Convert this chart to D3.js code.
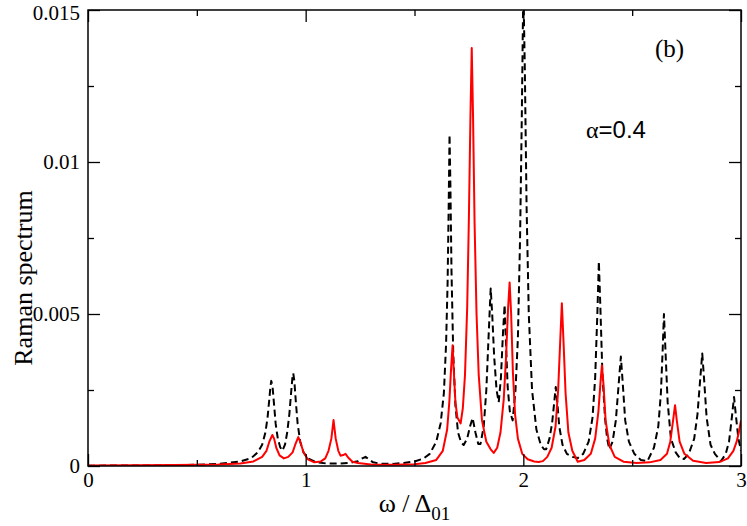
<!DOCTYPE html>
<html>
<head>
<meta charset="utf-8">
<script src="https://cdn.jsdelivr.net/npm/d3@7/dist/d3.min.js"></script>
<style>
  html, body { margin: 0; padding: 0; background: #fff; }
  svg { display: block; }
  .serif { font-family: "Liberation Serif", "Times New Roman", "DejaVu Serif", serif; }
  .sans { font-family: "Liberation Sans", Arial, sans-serif; }
</style>
</head>
<body>
<svg id="chart" width="747" height="526"></svg>
<script>
// ---- data ----
const xTicks = [0, 1, 2, 3];
const xTickLabels = ["0", "1", "2", "3"];
const xMinorTicks = [0.5, 1.5, 2.5];
const yTicks = [0, 0.005, 0.01, 0.015];
const yTickLabels = ["0", "0.005", "0.01", "0.015"];
const yMinorTicks = [0.0025, 0.0075, 0.0125];

// black dashed series: omega values and spectrum values
const blackOmega = [0, 0.3, 0.5, 0.6, 0.7, 0.75, 0.78, 0.8, 0.815, 0.825, 0.833, 0.838, 0.842, 0.848, 0.855, 0.862, 0.872, 0.883, 0.893, 0.905, 0.915, 0.925, 0.933, 0.939, 0.943, 0.948, 0.955, 0.963, 0.975, 0.99, 1.01, 1.05, 1.1, 1.15, 1.2, 1.24, 1.26, 1.275, 1.29, 1.31, 1.35, 1.4, 1.45, 1.5, 1.54, 1.57, 1.6, 1.62, 1.635, 1.645, 1.652, 1.657, 1.661, 1.665, 1.67, 1.678, 1.688, 1.7, 1.714, 1.726, 1.742, 1.755, 1.767, 1.78, 1.793, 1.803, 1.818, 1.83, 1.84, 1.85, 1.857, 1.866, 1.877, 1.887, 1.897, 1.906, 1.914, 1.92, 1.928, 1.938, 1.951, 1.964, 1.975, 1.985, 1.993, 2.0, 2.007, 2.015, 2.025, 2.04, 2.06, 2.08, 2.095, 2.105, 2.12, 2.132, 2.142, 2.149, 2.156, 2.165, 2.18, 2.2, 2.225, 2.25, 2.275, 2.3, 2.318, 2.33, 2.34, 2.347, 2.354, 2.363, 2.375, 2.385, 2.395, 2.41, 2.425, 2.437, 2.448, 2.456, 2.468, 2.485, 2.51, 2.54, 2.57, 2.6, 2.62, 2.632, 2.64, 2.646, 2.653, 2.663, 2.678, 2.7, 2.72, 2.738, 2.76, 2.785, 2.8, 2.812, 2.822, 2.83, 2.842, 2.86, 2.88, 2.908, 2.93, 2.945, 2.958, 2.968, 2.976, 2.988, 3.0];
const blackValue = [0.00001, 0.00002, 0.00004, 0.00007, 0.00015, 0.00026, 0.00045, 0.0007, 0.0011, 0.0016, 0.0022, 0.0026, 0.0028, 0.0026, 0.002, 0.0014, 0.0009, 0.00062, 0.0005, 0.0007, 0.0011, 0.0017, 0.0024, 0.0029, 0.00305, 0.0028, 0.0021, 0.0014, 0.0008, 0.00045, 0.00025, 0.00012, 0.00008, 0.00008, 0.0001, 0.00016, 0.00025, 0.0003, 0.00022, 0.00012, 0.00007, 0.00007, 0.0001, 0.00015, 0.00024, 0.0004, 0.0008, 0.0014, 0.0024, 0.004, 0.006, 0.0085, 0.0109, 0.0092, 0.0064, 0.0037, 0.002, 0.0011, 0.00078, 0.00069, 0.0009, 0.0013, 0.00158, 0.0011, 0.00072, 0.00072, 0.0013, 0.0025, 0.0042, 0.00584, 0.005, 0.0036, 0.0025, 0.0021, 0.0029, 0.0043, 0.0053, 0.0041, 0.0026, 0.0018, 0.0015, 0.0025, 0.0042, 0.0075, 0.0115, 0.0158, 0.013, 0.0085, 0.005, 0.0025, 0.0012, 0.0007, 0.00055, 0.00055, 0.0009, 0.0014, 0.0021, 0.0026, 0.0021, 0.0013, 0.0007, 0.0004, 0.0003, 0.00026, 0.0004, 0.0008, 0.0016, 0.0029, 0.005, 0.00673, 0.0052, 0.0031, 0.0016, 0.0009, 0.00055, 0.0008, 0.0015, 0.0026, 0.0036, 0.0028, 0.0015, 0.0008, 0.0004, 0.0002, 0.00016, 0.0006, 0.0013, 0.0024, 0.0038, 0.005, 0.0038, 0.0021, 0.0009, 0.00045, 0.00025, 0.00023, 0.0004, 0.0009, 0.0017, 0.0028, 0.0037, 0.0029, 0.0016, 0.0007, 0.0004, 0.00016, 0.0004, 0.0008, 0.0016, 0.00227, 0.0017, 0.0009, 0.0005];

// red solid series
const redOmega = [0, 0.4, 0.6, 0.7, 0.76, 0.8, 0.82, 0.833, 0.847, 0.855, 0.865, 0.88, 0.9, 0.92, 0.94, 0.952, 0.966, 0.975, 0.99, 1.01, 1.04, 1.07, 1.09, 1.105, 1.118, 1.128, 1.138, 1.15, 1.16, 1.172, 1.183, 1.195, 1.215, 1.24, 1.3, 1.4, 1.5, 1.55, 1.6, 1.63, 1.65, 1.66, 1.668, 1.675, 1.68, 1.688, 1.697, 1.712, 1.722, 1.732, 1.742, 1.75, 1.757, 1.763, 1.769, 1.776, 1.785, 1.795, 1.81, 1.83, 1.85, 1.864, 1.88, 1.895, 1.91, 1.92, 1.93, 1.937, 1.944, 1.952, 1.962, 1.975, 1.995, 2.02, 2.05, 2.07, 2.09, 2.11, 2.13, 2.148, 2.16, 2.17, 2.177, 2.184, 2.194, 2.207, 2.225, 2.25, 2.28, 2.31, 2.33, 2.345, 2.355, 2.361, 2.368, 2.378, 2.395, 2.42, 2.46, 2.52, 2.58, 2.63, 2.66, 2.675, 2.688, 2.697, 2.705, 2.718, 2.74, 2.78, 2.84, 2.9, 2.94, 2.965, 2.98, 2.99, 3.0];
const redValue = [0.00002, 0.00003, 0.00005, 0.00008, 0.00015, 0.0003, 0.0005, 0.0008, 0.00102, 0.0009, 0.0006, 0.00035, 0.00025, 0.0003, 0.00045, 0.0007, 0.00095, 0.0008, 0.00045, 0.00022, 0.00012, 0.00015, 0.00025, 0.0005, 0.0009, 0.00151, 0.0009, 0.0005, 0.00034, 0.00036, 0.0004, 0.00028, 0.00014, 0.0001, 0.00005, 0.00004, 0.00006, 0.0001, 0.0002, 0.0005, 0.0012, 0.0021, 0.0032, 0.00397, 0.0032, 0.0021, 0.0016, 0.0014, 0.0019, 0.003, 0.0052, 0.0082, 0.0115, 0.01375, 0.0115, 0.008, 0.005, 0.003, 0.0015, 0.0008, 0.00055, 0.00043, 0.0006, 0.0011, 0.0022, 0.0035, 0.0052, 0.00604, 0.005, 0.0031, 0.0017, 0.0009, 0.0004, 0.00022, 0.00015, 0.00013, 0.00016, 0.0003, 0.0006, 0.0013, 0.0025, 0.0042, 0.00535, 0.0042, 0.0024, 0.0011, 0.0005, 0.00014, 0.0002, 0.0004, 0.0009, 0.0018, 0.0028, 0.00331, 0.0027, 0.0015, 0.0007, 0.0003, 0.00014, 0.0001, 0.00012, 0.0002, 0.0004, 0.0008, 0.0015, 0.002, 0.0015, 0.0008, 0.0004, 0.00017, 0.0001, 0.00013, 0.00025, 0.0005, 0.0008, 0.0011, 0.0015];

// ---- layout ----
const svg = d3.select("#chart");
const margin = { left: 88, right: 6, top: 10, bottom: 60 };
const W = 747, H = 526;
const x0 = margin.left, x1 = W - margin.right;
const y0 = H - margin.bottom, y1 = margin.top;

const x = d3.scaleLinear().domain([0, 3]).range([x0, x1]);
const y = d3.scaleLinear().domain([0, 0.015]).range([y0, y1]);

svg.append("defs").append("clipPath").attr("id", "clip")
  .append("rect").attr("x", x0).attr("y", y1).attr("width", x1 - x0).attr("height", y0 - y1);

const line = d3.line().x(d => x(d[0])).y(d => y(d[1]));
const blackData = blackOmega.map((w, i) => [w, blackValue[i]]);
const redData = redOmega.map((w, i) => [w, redValue[i]]);

const plot = svg.append("g").attr("clip-path", "url(#clip)");
plot.append("path").datum(blackData).attr("d", line)
  .attr("fill", "none").attr("stroke", "#000").attr("stroke-width", 2)
  .attr("stroke-dasharray", "7,4").attr("stroke-linejoin", "round");
plot.append("path").datum(redData).attr("d", line)
  .attr("fill", "none").attr("stroke", "#ff0000").attr("stroke-width", 2)
  .attr("stroke-linejoin", "round");

// axes (ticks pointing inward on all four sides)
function styleAxis(g) {
  g.attr("font-family", null).attr("font-size", null);
  g.select(".domain").remove();
  g.selectAll(".tick line").attr("stroke", "#000").attr("stroke-width", 1.3);
  g.selectAll("text").attr("class", "serif").style("font-size", "21px").attr("fill", "#000");
}
const MAJ = 12, MIN = 6;
svg.append("g").attr("transform", `translate(0,${y0})`)
  .call(d3.axisBottom(x).tickValues(xTicks).tickSize(-MAJ).tickPadding(6)
    .tickFormat((d, i) => xTickLabels[i])).call(styleAxis);
svg.append("g").attr("transform", `translate(0,${y0})`)
  .call(d3.axisBottom(x).tickValues(xMinorTicks).tickSize(-MIN).tickFormat("")).call(styleAxis);
svg.append("g").attr("transform", `translate(0,${y1})`)
  .call(d3.axisTop(x).tickValues(xTicks).tickSize(-MAJ).tickFormat("")).call(styleAxis);
svg.append("g").attr("transform", `translate(0,${y1})`)
  .call(d3.axisTop(x).tickValues(xMinorTicks).tickSize(-MIN).tickFormat("")).call(styleAxis);
const yAxisG = svg.append("g").attr("transform", `translate(${x0},0)`)
  .call(d3.axisLeft(y).tickValues(yTicks).tickSize(-MAJ).tickPadding(8)
    .tickFormat((d, i) => yTickLabels[i])).call(styleAxis);
// keep the topmost label fully inside the picture
yAxisG.selectAll(".tick text").filter(d => d === yTicks[yTicks.length - 1]).attr("dy", "0.45em");
svg.append("g").attr("transform", `translate(${x0},0)`)
  .call(d3.axisLeft(y).tickValues(yMinorTicks).tickSize(-MIN).tickFormat("")).call(styleAxis);
svg.append("g").attr("transform", `translate(${x1},0)`)
  .call(d3.axisRight(y).tickValues(yTicks).tickSize(-MAJ).tickFormat("")).call(styleAxis);
svg.append("g").attr("transform", `translate(${x1},0)`)
  .call(d3.axisRight(y).tickValues(yMinorTicks).tickSize(-MIN).tickFormat("")).call(styleAxis);

// frame
svg.append("rect").attr("x", x0).attr("y", y1).attr("width", x1 - x0).attr("height", y0 - y1)
  .attr("fill", "none").attr("stroke", "#000").attr("stroke-width", 1.5);

// axis titles
svg.append("text").attr("class", "serif")
  .attr("transform", `translate(32,${(y0 + y1) / 2 + 40}) rotate(-90)`)
  .attr("text-anchor", "middle").style("font-size", "26px")
  .text("Raman spectrum");

const xt = svg.append("text").attr("class", "serif").attr("x", (x0 + x1) / 2).attr("y", 512)
  .attr("text-anchor", "middle").style("font-size", "26px");
xt.append("tspan").text("ω / Δ");
xt.append("tspan").style("font-size", "19px").attr("dy", 8).text("01");

// annotations
svg.append("text").attr("class", "serif").attr("x", 655).attr("y", 57).style("font-size", "25px").text("(b)");
const at = svg.append("text").attr("x", 586).attr("y", 138).style("font-size", "24px");
at.append("tspan").attr("class", "serif").text("α");
at.append("tspan").attr("class", "sans").text("=0.4");
</script>
</body>
</html>
